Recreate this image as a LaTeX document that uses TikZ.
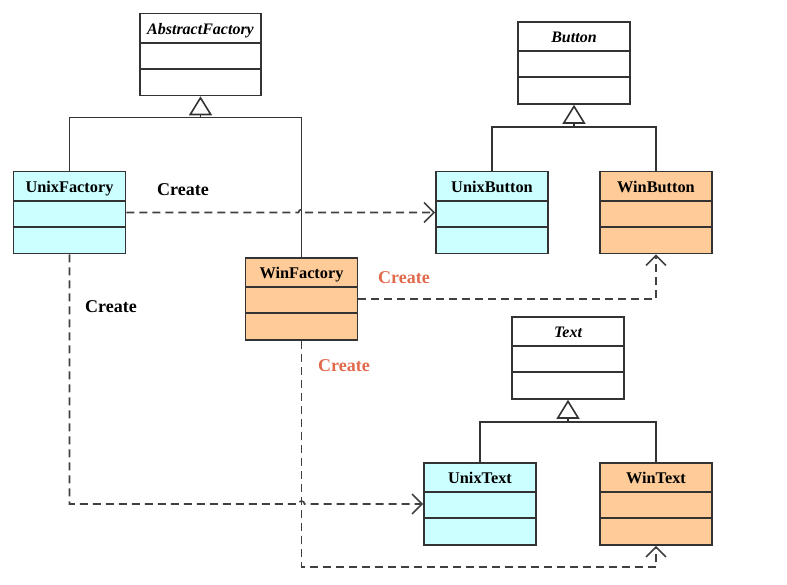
\documentclass[tikz,border=0pt]{standalone}
\usepackage{fontspec}
\setmainfont{Liberation Serif}
\usetikzlibrary{arrows.meta}
\definecolor{unixcyan}{RGB}{204,255,255}
\definecolor{winorange}{RGB}{255,204,153}
\definecolor{createred}{RGB}{226,106,76}

\begin{document}
\begin{tikzpicture}[
    x=1pt, y=1pt,
    every node/.style={font=\bfseries\fontsize{16.3}{19}\selectfont},
    classbox/.style={rectangle, draw=black!80, line width=1.6pt, minimum width=112pt, inner sep=0pt, text height=20.5pt, text depth=61.5pt},
    abstract/.style={classbox, fill=white, font=\bfseries\itshape\fontsize{16}{19}\selectfont},
    unix/.style={classbox, fill=unixcyan},
    win/.style={classbox, fill=winorange},
    solidline/.style={line width=1.6pt, draw=black!80},
    gen/.style={solidline, -{Triangle[open, length=19pt, width=23pt]}},
    dep/.style={-{Straight Barb[length=10pt, width=20pt]}, line width=1.6pt, draw=black!75, dash pattern=on 8pt off 5pt},
    create/.style={font=\bfseries\fontsize{18}{21}\selectfont}
]
\useasboundingbox (0,0) rectangle (787,-584);

% Clases
\node[abstract, minimum width=121pt] (af) at (200.5,-54.5) {AbstractFactory};
\node[unix] (uf) at (69.5,-212.5) {UnixFactory};
\node[win] (wf) at (301.5,-299) {WinFactory};
\node[abstract] (btn) at (574,-63) {Button};
\node[unix] (ub) at (492,-212.5) {UnixButton};
\node[win] (wb) at (656,-212.5) {WinButton};
\node[abstract] (txt) at (568,-358) {Text};
\node[unix] (ut) at (480,-504) {UnixText};
\node[win] (wt) at (656,-504) {WinText};

% Compartimentos
\foreach \c in {af,uf,wf,btn,ub,wb,txt,ut,wt}
  \draw[solidline] ([yshift=-30pt]\c.north west) -- ([yshift=-30pt]\c.north east)
                   ([yshift=-56pt]\c.north west) -- ([yshift=-56pt]\c.north east);

% Herencia
\coordinate (afbar) at ([yshift=-21pt]af.south);
\coordinate (btnbar) at ([yshift=-22pt]btn.south);
\coordinate (txtbar) at ([yshift=-22pt]txt.south);
\draw[solidline] (uf.north) |- (wf.north |- afbar) -- (wf.north);
\draw[gen] (afbar) -- (af.south);
\draw[solidline] (ub.north) |- (wb.north |- btnbar) -- (wb.north);
\draw[gen] (btnbar) -- (btn.south);
\draw[solidline] (ut.north) |- (wt.north |- txtbar) -- (wt.north);
\draw[gen] (txtbar) -- (txt.south);

% Dependencias
\coordinate (hop1) at (wf.north |- uf.east);
\coordinate (hop2) at (wf.south |- ut.west);
\draw[dep] (uf.east) -- ([xshift=-3pt]hop1) arc[start angle=180, end angle=0, radius=3pt] -- (ub.west);
\draw[dep] (wf.east) -| (wb.south);
\draw[dep] (uf.south) |- ([xshift=-3pt]hop2) arc[start angle=180, end angle=0, radius=3pt] -- (ut.west);
\draw[dep] (wf.south) |- ([yshift=-21pt]wt.south) -- (wt.south);

% Etiquetas
\node[create] (c1) at (183,-190) {Create};
\node[create] (c2) at (111,-307) {Create};
\node[create, text=createred] (c3) at (404,-278) {Create};
\node[create, text=createred] (c4) at (344,-366) {Create};

\end{tikzpicture}
\end{document}
